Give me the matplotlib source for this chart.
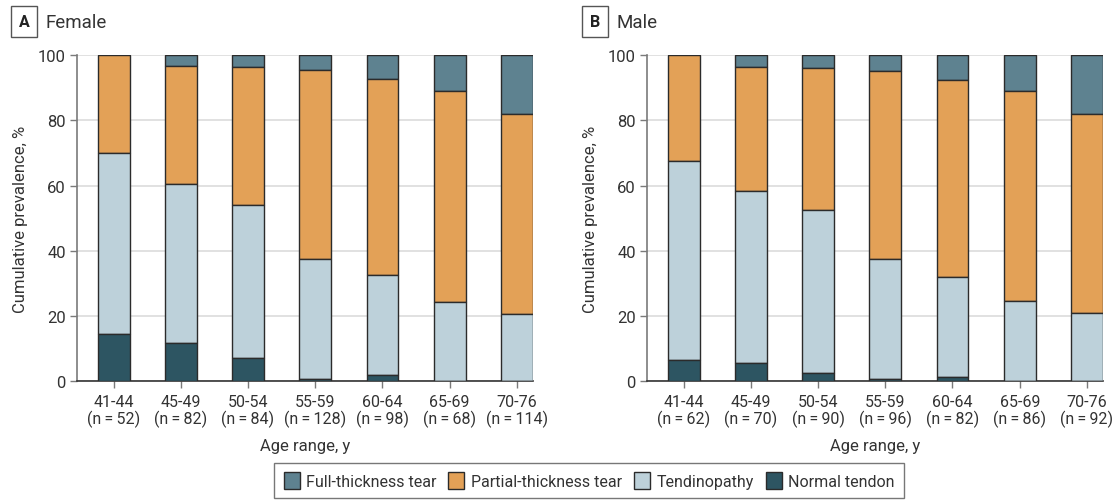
import matplotlib
matplotlib.use('Agg')
from matplotlib import pyplot as plt
from matplotlib.patches import Patch
import numpy as np

plt.rcParams['font.family'] = ['Roboto', 'DejaVu Sans']

ages = ['41-44', '45-49', '50-54', '55-59', '60-64', '65-69', '70-76']
n_female = [52, 82, 84, 128, 98, 68, 114]
n_male = [62, 70, 90, 96, 82, 86, 92]

# cumulative prevalence, % (top of each stacked segment)
female_normal = [14.4, 11.6, 7.1, 0.6, 1.9, 0.0, 0.0]
female_tendinopathy = [70.0, 60.6, 54.1, 37.3, 32.5, 24.3, 20.6]
female_partial = [100.0, 96.8, 96.4, 95.4, 92.7, 89.1, 82.1]
female_full = [100.0, 100.0, 100.0, 100.0, 100.0, 100.0, 100.0]

male_normal = [6.6, 5.4, 2.6, 0.5, 1.1, 0.0, 0.0]
male_tendinopathy = [67.5, 58.4, 52.5, 37.3, 32.0, 24.6, 20.8]
male_partial = [100.0, 96.5, 96.1, 95.1, 92.4, 89.0, 82.0]
male_full = [100.0, 100.0, 100.0, 100.0, 100.0, 100.0, 100.0]

categories = ['Full-thickness tear', 'Partial-thickness tear', 'Tendinopathy', 'Normal tendon']
colors = ['#5E8290', '#E3A157', '#BDD1DA', '#2D5562']
edge = '#2b2b2b'

fig = plt.figure(figsize=(11.12, 5.02), dpi=100)
ax_f = fig.add_axes([0.0692, 0.239, 0.410, 0.649])
ax_m = fig.add_axes([0.5818, 0.239, 0.410, 0.649])


def draw_panel(ax, normal, tend, partial, full, ns, letter, title, x_letter):
    x = np.arange(len(ages))
    w = 0.475
    tops = [full, partial, tend, normal]
    for k in range(4):
        top = np.array(tops[k])
        bottom = np.array(tops[k + 1]) if k < 3 else np.zeros(len(x))
        ax.bar(x, top - bottom, bottom=bottom, width=w, color=colors[k],
               edgecolor=edge, linewidth=1.0, zorder=3)
    ax.set_xlim(-0.545, len(x) - 1 + w / 2)
    ax.set_ylim(0, 100)
    ax.set_yticks([0, 20, 40, 60, 80, 100])
    ax.yaxis.grid(True, color='#dcdcdc', linewidth=1.2, zorder=0)
    ax.set_axisbelow(True)
    for s in ['top', 'right']:
        ax.spines[s].set_visible(False)
    ax.spines['left'].set_color('#7a7a7a')
    ax.spines['left'].set_linewidth(1.2)
    ax.spines['bottom'].set_color('#333333')
    ax.spines['bottom'].set_linewidth(1.2)
    ax.set_xticks(x)
    ax.set_xticklabels(['%s\n(n\u2009=\u2009%d)' % (a, n) for a, n in zip(ages, ns)],
                       fontsize=11.5, color='#333333', linespacing=1.1)
    ax.tick_params(axis='y', labelsize=12, colors='#7a7a7a', labelcolor='#333333',
                   length=5, width=1.0, pad=3)
    ax.tick_params(axis='x', length=5, width=1.0, colors='#7a7a7a', labelcolor='#333333', pad=4)
    ax.set_ylabel('Cumulative prevalence, %', fontsize=12, color='#333333', labelpad=7)
    ax.set_xlabel('Age range, y', fontsize=12, color='#333333', labelpad=8)
    fig.text(x_letter, 0.955, letter, fontsize=11.5, fontweight='bold', color='#222222',
             ha='center', va='center',
             bbox=dict(boxstyle='square,pad=0.5', facecolor='white', edgecolor='#555555', linewidth=1.0))
    fig.text(x_letter + 0.019, 0.955, title, fontsize=13.5, color='#333333', ha='left', va='center')


draw_panel(ax_f, female_normal, female_tendinopathy, female_partial, female_full, n_female,
           'A', 'Female', 0.0216)
draw_panel(ax_m, male_normal, male_tendinopathy, male_partial, male_full, n_male,
           'B', 'Male', 0.535)

handles = [Patch(facecolor=c, edgecolor=edge, linewidth=1.0) for c in colors]
leg = fig.legend(handles, categories, loc='center', bbox_to_anchor=(0.5297, 0.041), ncol=4,
                 frameon=True, fancybox=False, fontsize=11.5, handlelength=1.0, handleheight=1.2,
                 handletextpad=0.4, columnspacing=0.75, borderpad=0.6, labelcolor='#333333')
leg.get_frame().set_edgecolor('#555555')
leg.get_frame().set_linewidth(1.0)

fig.savefig('out.png', dpi=100)
